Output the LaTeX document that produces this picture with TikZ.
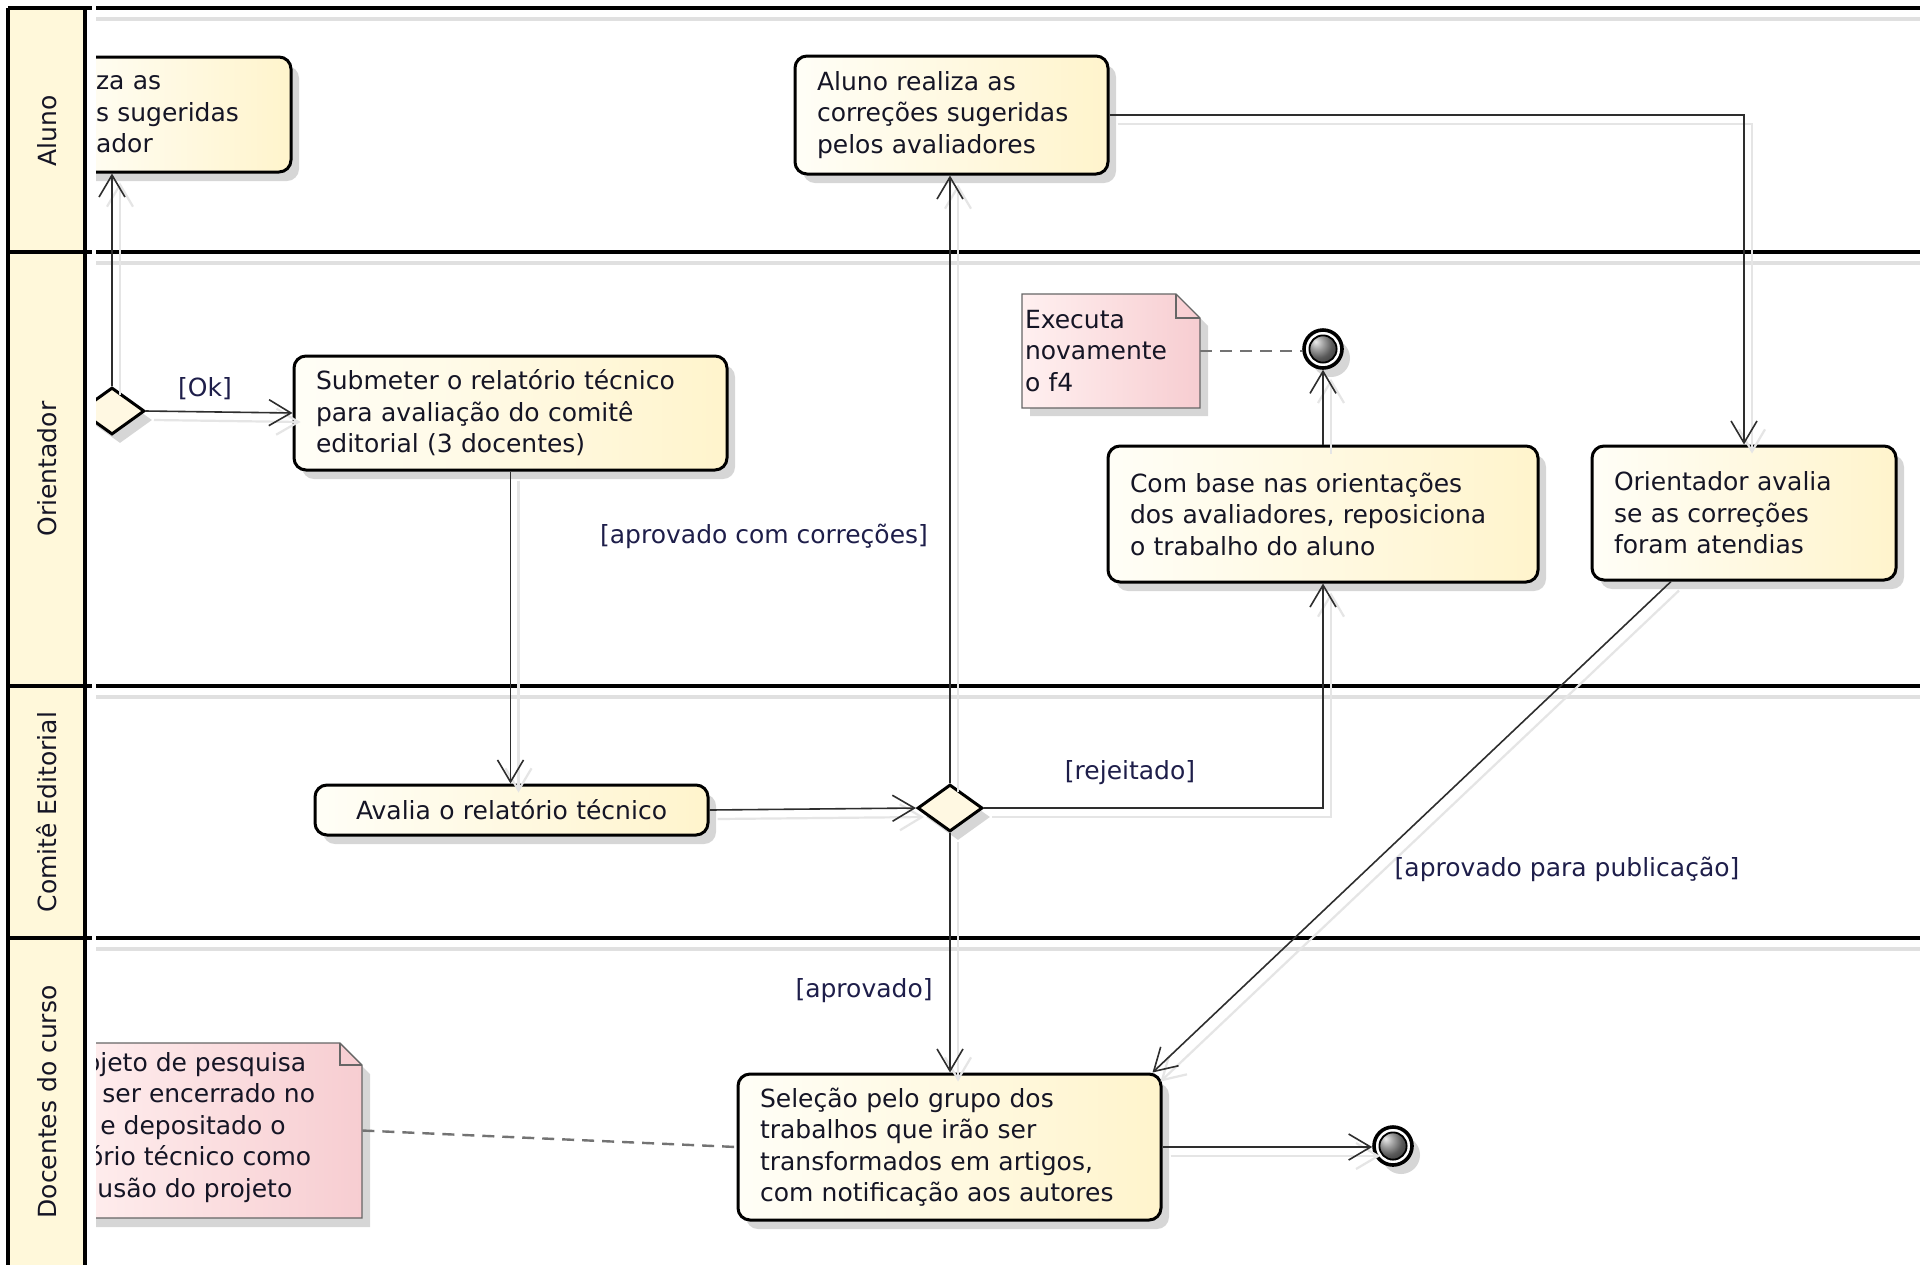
\documentclass[tikz,border=0pt]{standalone}
\usepackage{fontspec}
\setmainfont{DejaVu Sans}
\usetikzlibrary{arrows.meta,shapes.geometric,shadows,calc}
\definecolor{actA}{HTML}{FFFEF7}
\definecolor{actB}{HTML}{FFF4CC}
\definecolor{noteA}{HTML}{FFF0F0}
\definecolor{noteB}{HTML}{F7CDD1}
\definecolor{lblc}{HTML}{1E1E4A}
\definecolor{txtc}{HTML}{151525}
\definecolor{hdrfill}{HTML}{FFF8DA}
\definecolor{lnc}{HTML}{2E2E2E}
\definecolor{diaF}{HTML}{FFF8E2}
\begin{document}
\begin{tikzpicture}[x=0.5pt,y=-0.5pt,
  font=\fontsize{12.5}{15.75}\selectfont,
  lane/.style={draw=black, line width=1.7pt},
  laneshadow/.style={draw=black!12, line width=1.6pt},
  shad/.style={drop shadow={shadow xshift=4pt, shadow yshift=-4.5pt, fill=black!35, opacity=0.45}},
  act/.style={rectangle, rounded corners=6pt, draw=black, line width=1.5pt,
    left color=actA, right color=actB, shad, inner ysep=0pt, inner xsep=11pt,
    align=left, text=txtc},
  dia/.style={diamond, draw=black, line width=1.5pt, fill=diaF, minimum width=32.5pt,
    minimum height=23.5pt, inner sep=0pt, shad},
  fin/.style={circle, draw=black, line width=1.8pt, fill=white, minimum size=19pt,
    inner sep=0pt, shad, path picture={\shade[ball color=black!50]
    (path picture bounding box.center) circle (6.6pt);
    \draw[black, line width=0.9pt] (path picture bounding box.center) circle (6.8pt);}},
  notebox/.style={rectangle, draw=none, inner xsep=1.5pt, inner ysep=0pt, align=left, text=txtc},
  notetxt/.style={inner sep=0pt, anchor=base west, text=txtc},
  notefill/.style={left color=noteA, right color=noteB, draw=black!60, line width=0.7pt},
  notefold/.style={draw=black!60, line width=0.7pt},
  nshadow/.style={fill=black!35, opacity=0.45},
  conn/.style={draw=lnc, line width=0.8pt, -{Straight Barb[length=11pt,width=13pt]},
    preaction={draw=black!10, line width=1.1pt, transform canvas={xshift=4pt,yshift=-4.5pt}}},
  dashline/.style={draw=black!55, line width=1.2pt, dash pattern=on 6pt off 4pt},
  lbl/.style={text=lblc, inner sep=0pt},
  hdr/.style={rotate=90, text=txtc, inner sep=0pt}]

\path[use as bounding box, fill=white] (0,0) rectangle (1920,1265);

% lanes
\foreach \yy in {8,252,686,938} {
  \draw[laneshadow] (96,\yy+11) -- (1920,\yy+11);
  \draw[lane] (96,\yy) -- (1920,\yy);
}
\fill[hdrfill] (8,8) rectangle (85,1265);
\foreach \yy in {8,252,686,938} { \draw[lane] (8,\yy) -- (92,\yy); }
\draw[lane] (8,8) -- (8,1265);
\draw[lane] (85,8) -- (85,1265);
\node[hdr] (hAluno) at (47,131) {Aluno};
\node[hdr] (hOrient) at (47,469) {Orientador};
\node[hdr] (hComite) at (47,812) {Comitê Editorial};
\node[hdr] (hDoc) at (47,1102) {Docentes do curso};

% clipped items at the left edge
\begin{scope}
\clip (96,0) rectangle (1920,1265);
\node[act, minimum width=115.5pt, minimum height=57.5pt, text width=79.5pt, inner xsep=18pt] (A) at (175.5,114.5) {za as\\s sugeridas\\ador};
\node[dia] (C) at (112,411) {};
\fill[nshadow] (68,1052) -- (348,1052) -- (370,1074) -- (370,1227) -- (68,1227) -- cycle;
\shadedraw[notefill] (60,1043) -- (340,1043) -- (362,1065) -- (362,1218) -- (60,1218) -- cycle;
\draw[notefold] (340,1043) -- (340,1065) -- (362,1065);
\node[notebox, minimum width=151pt, minimum height=87.5pt] (M) at (211,1130.5) {};
\node[notetxt] (M1) at (84.7,1071) {ojeto de pesquisa};
\node[notetxt] (M2) at (102,1102.5) {ser encerrado no};
\node[notetxt] (M3) at (100,1134) {e depositado o};
\node[notetxt] (M4) at (87.7,1165.5) {ório técnico como};
\node[notetxt] (M5) at (97,1197) {usão do projeto};
\end{scope}

% action nodes
\node[act, minimum width=156.5pt, minimum height=59pt, text width=134.5pt] (B) at (951.5,115)
  {Aluno realiza as\\correções sugeridas\\pelos avaliadores};
\node[act, minimum width=216.5pt, minimum height=57pt, text width=194.5pt] (D) at (510.5,413)
  {Submeter o relatório técnico\\para avaliação do comitê\\editorial (3 docentes)};
\node[act, minimum width=196.5pt, minimum height=25pt, text width=174.5pt, align=center] (E) at (511.5,810)
  {Avalia o relatório técnico};
\node[dia] (F) at (950,808) {};
\node[act, minimum width=215pt, minimum height=68pt, text width=193pt] (G) at (1323,514)
  {Com base nas orientações\\dos avaliadores, reposiciona\\o trabalho do aluno};
\node[act, minimum width=152pt, minimum height=67pt, text width=130pt] (J) at (1744,513)
  {Orientador avalia\\se as correções\\foram atendias};
\node[act, minimum width=211.5pt, minimum height=73pt, text width=189.5pt] (K) at (949.5,1147)
  {Seleção pelo grupo dos\\trabalhos que irão ser\\transformados em artigos,\\com notificação aos autores};
\node[fin] (H) at (1323,349) {};
\node[fin] (L) at (1393,1146) {};

% note I
\fill[nshadow] (1030,302) -- (1184,302) -- (1208,326) -- (1208,416) -- (1030,416) -- cycle;
\shadedraw[notefill] (1022,294) -- (1176,294) -- (1200,318) -- (1200,408) -- (1022,408) -- cycle;
\draw[notefold] (1176,294) -- (1176,318) -- (1200,318);
\node[notebox, minimum width=89pt, minimum height=57pt, text width=86pt] (I) at (1111,351)
  {Executa\\novamente\\o f4};

% connectors
\draw[conn] (C.north) -- (C.north |- A.south);
\draw[conn] (C.east) -- (D.west);
\draw[conn] (D.south) -- (D.south |- E.north);
\draw[conn] (E.east) -- (F.west);
\draw[conn] (F.north) -- (F.north |- B.south);
\draw[conn] (F.east) -| (G.south);
\draw[conn] (G.north) -- (H.south);
\draw[conn] (F.south) -- (F.south |- K.north);
\draw[conn] (B.east) -| (J.north);
\draw[conn] ([xshift=-36.5pt]J.south) -- ([xshift=-5pt]K.north east);
\draw[conn] (K.east) -- (K.east -| L.west);
\draw[dashline] (I.east) -- (I.east -| H.west);
\draw[dashline] (M.east) -- (K.west);

% labels
\node[lbl] (lOk) at (205,389) {[Ok]};
\node[lbl] (lCorr) at (764,536) {[aprovado com correções]};
\node[lbl] (lRej) at (1130,773) {[rejeitado]};
\node[lbl] (lApr) at (864,991) {[aprovado]};
\node[lbl] (lPub) at (1567,869) {[aprovado para publicação]};
\end{tikzpicture}
\end{document}
